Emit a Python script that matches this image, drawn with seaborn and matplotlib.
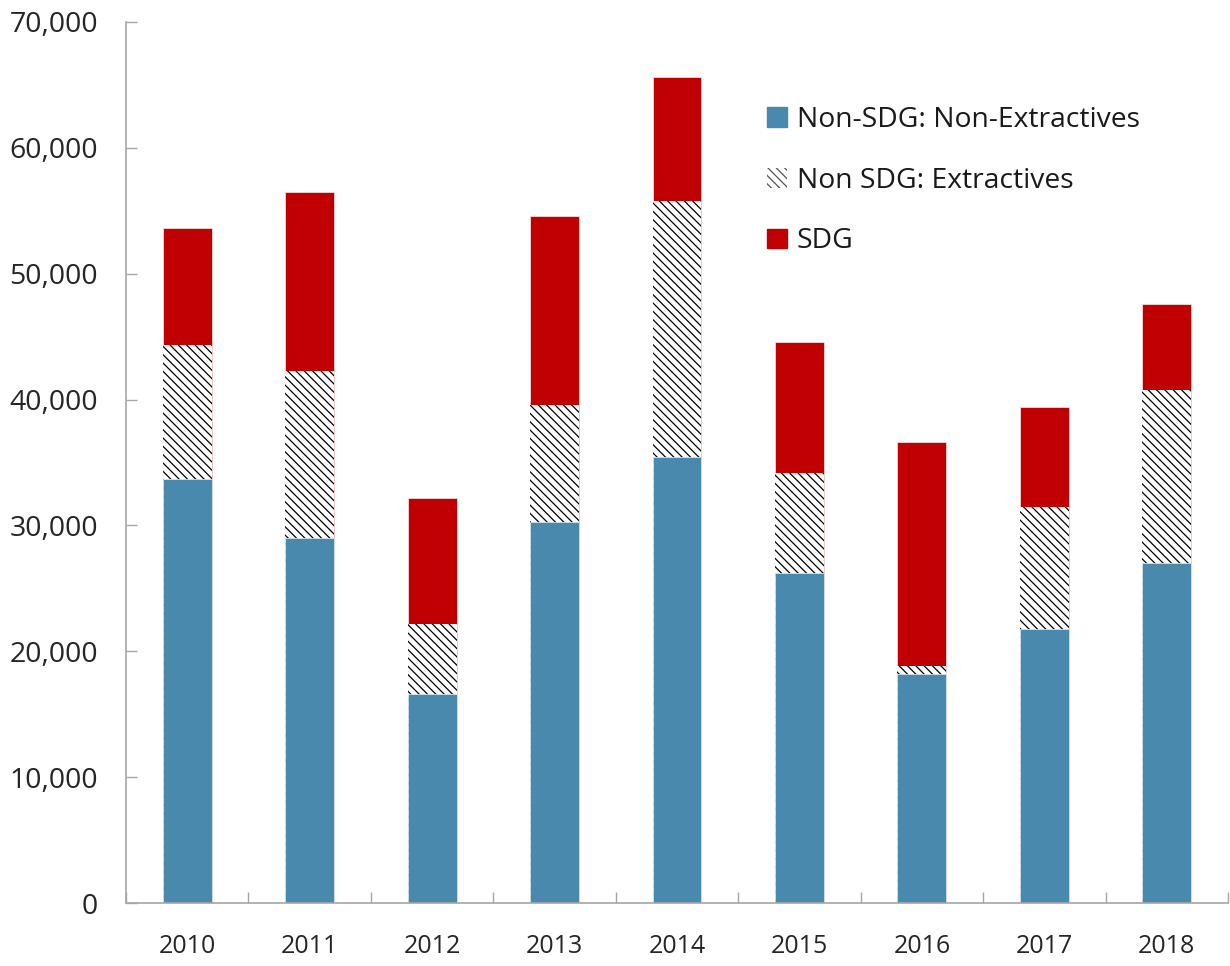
import matplotlib
matplotlib.use("Agg")
import matplotlib.pyplot as plt
import seaborn as sns
import numpy as np
import pandas as pd
from matplotlib.patches import Patch
from matplotlib.ticker import FuncFormatter, FixedLocator

years = ["2010", "2011", "2012", "2013", "2014", "2015", "2016", "2017", "2018"]
non_sdg_non_extractives = [33700, 29000, 16600, 30300, 35400, 26200, 18200, 21800, 27000]
non_sdg_extractives = [10600, 13300, 5600, 9300, 20400, 8000, 600, 9700, 13800]
sdg = [9300, 14200, 10000, 15000, 9800, 10400, 17800, 7900, 6800]
series_labels = ["Non-SDG: Non-Extractives", "Non SDG: Extractives", "SDG"]

blue = "#4A89AE"
red = "#C00000"
axis_gray = "#A6A6A6"

sns.set_theme(style="white")
plt.rcParams['font.family'] = ['Open Sans', 'DejaVu Sans']
plt.rcParams['hatch.linewidth'] = 0.9

df = pd.DataFrame({
    "year": years,
    "blue": non_sdg_non_extractives,
    "hatch": non_sdg_extractives,
    "sdg": sdg,
})
df["lvl1"] = df["blue"]
df["lvl2"] = df["blue"] + df["hatch"]
df["lvl3"] = df["lvl2"] + df["sdg"]

fig = plt.figure(figsize=(12.3, 9.66), dpi=100)
ax = fig.add_axes([126 / 1230, 63 / 966, 1102 / 1230, 881 / 966])

width = 0.4
hatch_pat = "\\\\\\\\"
sns.barplot(data=df, x="year", y="lvl3", color=red, saturation=1, width=width,
            edgecolor="#F2DADA", linewidth=0.6, ax=ax)
sns.barplot(data=df, x="year", y="lvl2", color="white", saturation=1, width=width,
            edgecolor="black", linewidth=0, hatch=hatch_pat, ax=ax)
sns.barplot(data=df, x="year", y="lvl1", color=blue, saturation=1, width=width,
            edgecolor="#D6E4EE", linewidth=0.6, ax=ax)

ax.set_xlim(-0.5, len(years) - 0.5)
ax.set_ylim(0, 70000)
ax.set_xlabel("")
ax.set_ylabel("")
ax.yaxis.set_major_locator(FixedLocator(np.arange(0, 70001, 10000)))
ax.yaxis.set_major_formatter(FuncFormatter(lambda v, p: f"{int(v):,}"))

for s in ["top", "right"]:
    ax.spines[s].set_visible(False)
for s in ["left", "bottom"]:
    ax.spines[s].set_color(axis_gray)
    ax.spines[s].set_linewidth(1.2)

ax.tick_params(axis="y", direction="in", length=8, width=1, color=axis_gray,
               labelsize=20.5, labelcolor="#262626", pad=20, left=True)
ax.tick_params(axis="x", which="major", length=0, labelsize=18, labelcolor="#262626", pad=22)
ax.set_xticks(np.arange(-0.5, len(years) + 0.5, 1), minor=True)
ax.tick_params(axis="x", which="minor", direction="in", length=8, width=1,
               color=axis_gray, bottom=True)

handles = [
    Patch(facecolor=blue, edgecolor=blue, label=series_labels[0]),
    Patch(facecolor="white", edgecolor="#555555", linewidth=0, hatch=hatch_pat, label=series_labels[1]),
    Patch(facecolor=red, edgecolor=red, label=series_labels[2]),
]
leg = ax.legend(handles=handles, loc="upper left", bbox_to_anchor=(0.559, 0.934),
                frameon=False, fontsize=20.3, handlelength=0.7, handleheight=0.7,
                handletextpad=0.35, labelspacing=1.17)
for t in leg.get_texts():
    t.set_color("#1a1a1a")

fig.savefig("out.png", dpi=100)
